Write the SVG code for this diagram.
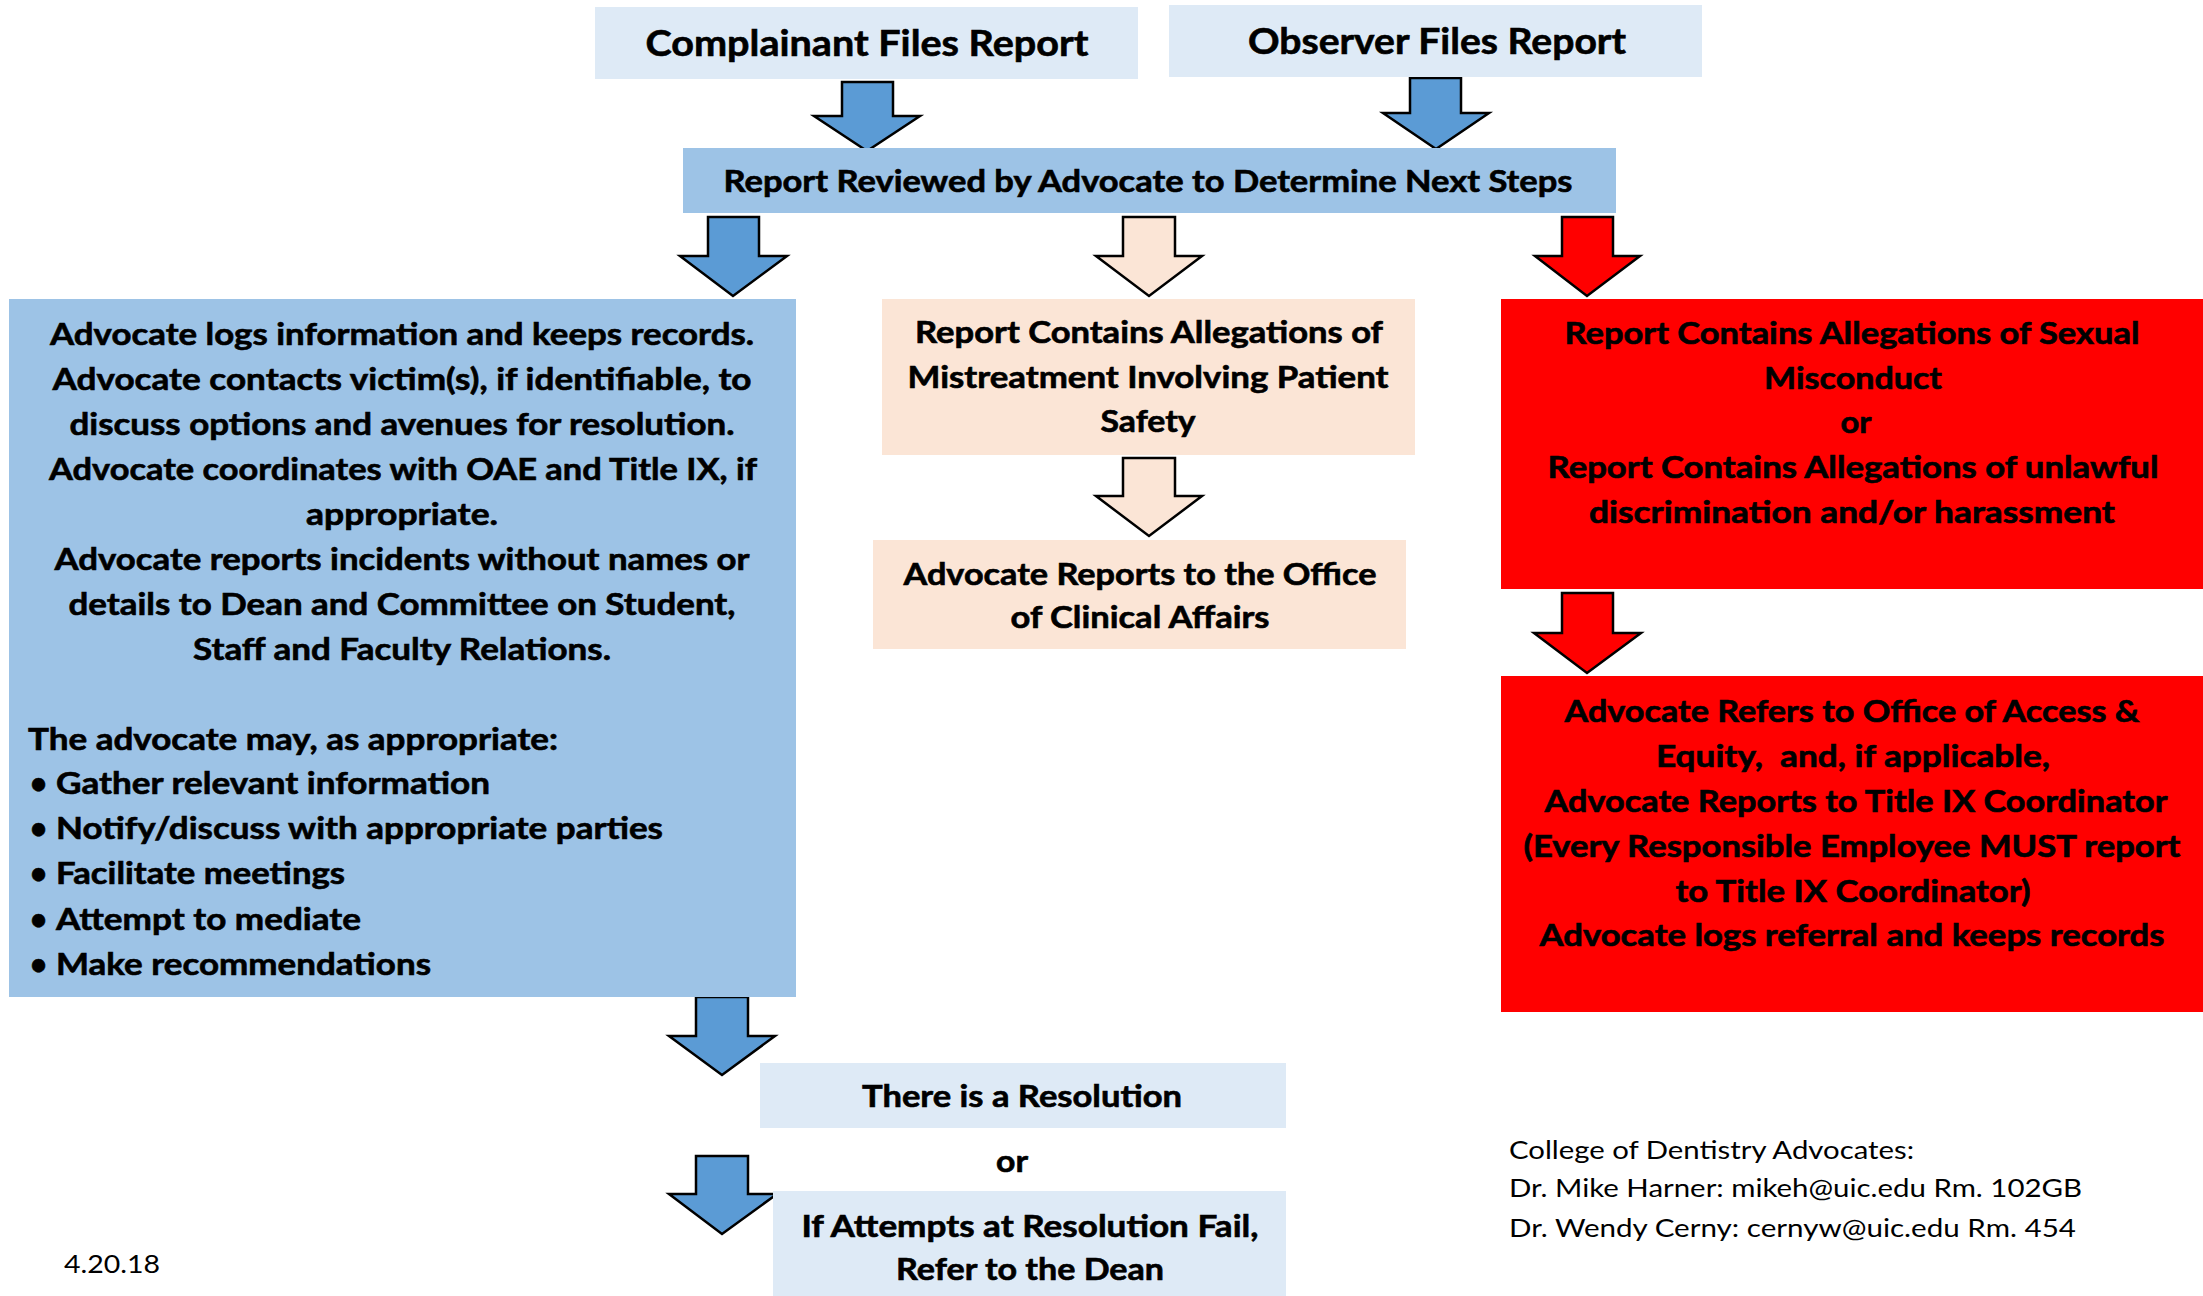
<svg xmlns="http://www.w3.org/2000/svg" width="2203" height="1296" viewBox="0 0 2203 1296">
<style>
.t{font-family:Lato,"Open Sans","Liberation Sans",sans-serif;font-weight:700;fill:#000;stroke:#000;stroke-width:0.6;text-anchor:middle}
.l{text-anchor:start}
.s29{font-size:29.5px}
.s36{font-size:36px}
.s30{font-size:30px}
.r{font-family:Lato,"Open Sans","Liberation Sans",sans-serif;font-weight:400;fill:#000;font-size:25px}
.pre{white-space:pre}
.lb{fill:#DEEAF6}
.mb{fill:#9DC3E6}
.pb{fill:#FBE5D6}
.rb{fill:#FF0000}
.ab{fill:#5B9BD5;stroke:#000;stroke-width:2.5;stroke-linejoin:miter}
.ap{fill:#FBE5D6;stroke:#000;stroke-width:2.5}
.ar{fill:#FF0000;stroke:#000;stroke-width:2.5}
</style>
<rect width="2203" height="1296" fill="#fff"/>
<g id="connectors">
<polygon class="ab" points="842,82 893,82 893,116 920,116 867,151 814,116 842,116"/>
<polygon class="ab" points="1410,78 1461,78 1461,113 1489,113 1436,149 1383,113 1410,113"/>
<polygon class="ab" points="708,217 759,217 759,256 787,256 733,296 680,256 708,256"/>
<polygon class="ap" points="1123,217 1175,217 1175,256 1202,256 1149,296 1096,256 1123,256"/>
<polygon class="ar" points="1562,217 1613,217 1613,256 1640,256 1587,296 1535,256 1562,256"/>
<polygon class="ap" points="1123,458 1175,458 1175,496 1202,496 1149,536 1096,496 1123,496"/>
<polygon class="ar" points="1562,593 1613,593 1613,633 1641,633 1587,673 1534,633 1562,633"/>
<polygon class="ab" points="696,997 748,997 748,1036 775,1036 722,1075 669,1036 696,1036"/>
<polygon class="ab" points="696,1156 748,1156 748,1194 777,1194 722,1234 669,1194 696,1194"/>
</g>
<g id="complainant">
<rect class="lb" x="595" y="7" width="543" height="72"/>
<text class="t s36" x="867" y="56" textLength="443" lengthAdjust="spacingAndGlyphs">Complainant Files Report</text>
</g>
<g id="observer">
<rect class="lb" x="1169" y="5" width="533" height="72"/>
<text class="t s36" x="1437" y="54" textLength="378" lengthAdjust="spacingAndGlyphs">Observer Files Report</text>
</g>
<g id="reviewed">
<rect class="mb" x="683" y="148" width="933" height="65"/>
<text class="t s29" x="1148" y="192" textLength="849" lengthAdjust="spacingAndGlyphs">Report Reviewed by Advocate to Determine Next Steps</text>
</g>
<g id="advocate-logs">
<rect class="mb" x="9" y="299" width="787" height="698"/>
<text class="t s29" x="402" y="345" textLength="704" lengthAdjust="spacingAndGlyphs">Advocate logs information and keeps records.</text>
<text class="t s29" x="402" y="390" textLength="699" lengthAdjust="spacingAndGlyphs">Advocate contacts victim(s), if identifiable, to</text>
<text class="t s29" x="402" y="435" textLength="665" lengthAdjust="spacingAndGlyphs">discuss options and avenues for resolution.</text>
<text class="t s29" x="403" y="480" textLength="708" lengthAdjust="spacingAndGlyphs">Advocate coordinates with OAE and Title IX, if</text>
<text class="t s29" x="402" y="525" textLength="192" lengthAdjust="spacingAndGlyphs">appropriate.</text>
<text class="t s29" x="402" y="570" textLength="695" lengthAdjust="spacingAndGlyphs">Advocate reports incidents without names or</text>
<text class="t s29" x="402" y="615" textLength="667" lengthAdjust="spacingAndGlyphs">details to Dean and Committee on Student,</text>
<text class="t s29" x="402" y="660" textLength="418" lengthAdjust="spacingAndGlyphs">Staff and Faculty Relations.</text>
<text class="t l s29" x="28" y="750" textLength="530" lengthAdjust="spacingAndGlyphs">The advocate may, as appropriate:</text>
<text class="t l s29" x="30" y="794">•</text>
<text class="t l s29" x="56" y="794" textLength="434" lengthAdjust="spacingAndGlyphs">Gather relevant information</text>
<text class="t l s29" x="30" y="839">•</text>
<text class="t l s29" x="56" y="839" textLength="607" lengthAdjust="spacingAndGlyphs">Notify/discuss with appropriate parties</text>
<text class="t l s29" x="30" y="884">•</text>
<text class="t l s29" x="56" y="884" textLength="289" lengthAdjust="spacingAndGlyphs">Facilitate meetings</text>
<text class="t l s29" x="30" y="930">•</text>
<text class="t l s29" x="56" y="930" textLength="305" lengthAdjust="spacingAndGlyphs">Attempt to mediate</text>
<text class="t l s29" x="30" y="975">•</text>
<text class="t l s29" x="56" y="975" textLength="375" lengthAdjust="spacingAndGlyphs">Make recommendations</text>
</g>
<g id="patient-safety">
<rect class="pb" x="882" y="299" width="533" height="156"/>
<text class="t s29" x="1149" y="343" textLength="468" lengthAdjust="spacingAndGlyphs">Report Contains Allegations of</text>
<text class="t s29" x="1148" y="388" textLength="481" lengthAdjust="spacingAndGlyphs">Mistreatment Involving Patient</text>
<text class="t s29" x="1148" y="432" textLength="95" lengthAdjust="spacingAndGlyphs">Safety</text>
</g>
<g id="clinical-affairs">
<rect class="pb" x="873" y="540" width="533" height="109"/>
<text class="t s29" x="1140" y="585" textLength="473" lengthAdjust="spacingAndGlyphs">Advocate Reports to the Office</text>
<text class="t s29" x="1140" y="628" textLength="259" lengthAdjust="spacingAndGlyphs">of Clinical Affairs</text>
</g>
<g id="sexual-misconduct">
<rect class="rb" x="1501" y="299" width="702" height="290"/>
<text class="t s29" x="1852" y="344" textLength="575" lengthAdjust="spacingAndGlyphs">Report Contains Allegations of Sexual</text>
<text class="t s29" x="1853" y="389" textLength="178" lengthAdjust="spacingAndGlyphs">Misconduct</text>
<text class="t s29" x="1856" y="433" textLength="31" lengthAdjust="spacingAndGlyphs">or</text>
<text class="t s29" x="1853" y="478" textLength="611" lengthAdjust="spacingAndGlyphs">Report Contains Allegations of unlawful</text>
<text class="t s29" x="1852" y="523" textLength="526" lengthAdjust="spacingAndGlyphs">discrimination and/or harassment</text>
</g>
<g id="access-equity">
<rect class="rb" x="1501" y="676" width="702" height="336"/>
<text class="t s29" x="1852" y="722" textLength="575" lengthAdjust="spacingAndGlyphs">Advocate Refers to Office of Access &amp;</text>
<text class="t s29 pre" x="1853" y="767" textLength="394" lengthAdjust="spacingAndGlyphs">Equity,  and, if applicable,</text>
<text class="t s29" x="1856" y="812" textLength="623" lengthAdjust="spacingAndGlyphs">Advocate Reports to Title IX Coordinator</text>
<text class="t s29" x="1852" y="857" textLength="657" lengthAdjust="spacingAndGlyphs">(Every Responsible Employee MUST report</text>
<text class="t s29" x="1853" y="902" textLength="355" lengthAdjust="spacingAndGlyphs">to Title IX Coordinator)</text>
<text class="t s29" x="1852" y="946" textLength="625" lengthAdjust="spacingAndGlyphs">Advocate logs referral and keeps records</text>
</g>
<g id="resolution">
<rect class="lb" x="760" y="1063" width="526" height="65"/>
<text class="t s30" x="1022" y="1107" textLength="320" lengthAdjust="spacingAndGlyphs">There is a Resolution</text>
</g>
<g id="or-label">
<text class="t s30" x="1012" y="1172" textLength="32" lengthAdjust="spacingAndGlyphs">or</text>
</g>
<g id="refer-dean">
<rect class="lb" x="773" y="1191" width="513" height="105"/>
<text class="t s30" x="1030" y="1237" textLength="457" lengthAdjust="spacingAndGlyphs">If Attempts at Resolution Fail,</text>
<text class="t s30" x="1030" y="1280" textLength="268" lengthAdjust="spacingAndGlyphs">Refer to the Dean</text>
</g>
<g id="contacts">
<text class="r" x="1509" y="1159" textLength="405" lengthAdjust="spacingAndGlyphs">College of Dentistry Advocates:</text>
<text class="r" x="1509" y="1197" textLength="573" lengthAdjust="spacingAndGlyphs">Dr. Mike Harner: mikeh@uic.edu Rm. 102GB</text>
<text class="r" x="1509" y="1237" textLength="567" lengthAdjust="spacingAndGlyphs">Dr. Wendy Cerny: cernyw@uic.edu Rm. 454</text>
</g>
<g id="date">
<text class="r" x="64" y="1273" textLength="96" lengthAdjust="spacingAndGlyphs">4.20.18</text>
</g>
</svg>
